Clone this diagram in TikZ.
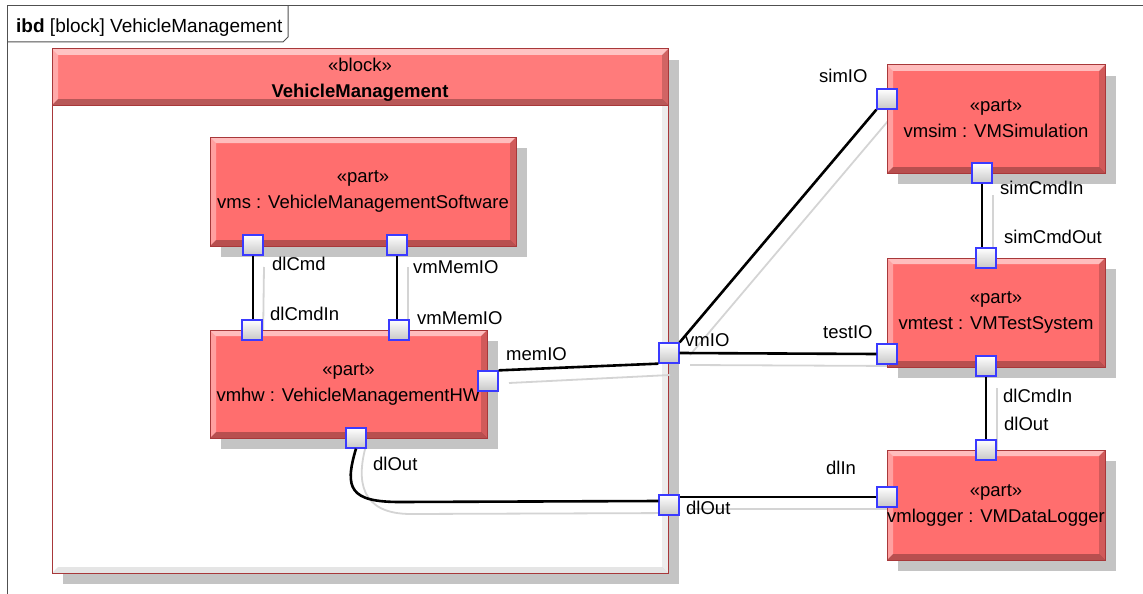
\documentclass[tikz,border=0pt]{standalone}
\usepackage{fontspec}
\setmainfont{Liberation Sans}
\usetikzlibrary{shadows}
\definecolor{partred}{HTML}{FF6E6E}
\definecolor{headred}{HTML}{FF7B7B}
\definecolor{borderred}{HTML}{A8383A}
\definecolor{shadowgray}{HTML}{C4C4C4}
\definecolor{portblue}{HTML}{3A3AFF}
\definecolor{framegray}{HTML}{505050}
\definecolor{lineshadow}{HTML}{D4D4D4}
\tikzset{
  txt/.style={font=\fontsize{18.5}{26}\selectfont},
  bevel/.style={path picture={
    \path (path picture bounding box.north west) coordinate (bvnw)
          (path picture bounding box.south east) coordinate (bvse);
    \fill[white,opacity=.55] (bvnw) -- (bvnw -| bvse) -- ([shift={(-6pt,-6pt)}]bvnw -| bvse) -- ([shift={(6pt,-6pt)}]bvnw) -- cycle;
    \fill[white,opacity=.35] (bvnw) -- ([shift={(6pt,-6pt)}]bvnw) -- ([shift={(6pt,6pt)}]bvnw |- bvse) -- (bvnw |- bvse) -- cycle;
    \fill[black,opacity=.28] (bvnw |- bvse) -- (bvse) -- ([shift={(-6pt,6pt)}]bvse) -- ([shift={(6pt,6pt)}]bvnw |- bvse) -- cycle;
    \fill[black,opacity=.18] (bvse) -- (bvnw -| bvse) -- ([shift={(-6pt,-6pt)}]bvnw -| bvse) -- ([shift={(-6pt,6pt)}]bvse) -- cycle;
  }},
  lightbevel/.style={path picture={
    \path (path picture bounding box.north west) coordinate (bvnw)
          (path picture bounding box.south east) coordinate (bvse);
    \fill[black,opacity=.10] (bvnw |- bvse) -- (bvse) -- ([shift={(-6pt,6pt)}]bvse) -- ([shift={(6pt,6pt)}]bvnw |- bvse) -- cycle;
    \fill[black,opacity=.07] (bvse) -- (bvnw -| bvse) -- ([shift={(-6pt,-6pt)}]bvnw -| bvse) -- ([shift={(-6pt,6pt)}]bvse) -- cycle;
  }},
  boxshadow/.style={drop shadow={shadow xshift=11pt, shadow yshift=-11pt, fill=shadowgray, opacity=1, draw=none}},
  partbox/.style={rectangle, draw=borderred, line width=1pt, fill=partred, bevel, boxshadow,
                  txt, align=center, inner sep=0pt},
  blockbox/.style={rectangle, draw=borderred, line width=1pt, fill=white, lightbevel, boxshadow, inner sep=0pt},
  headbox/.style={rectangle, draw=borderred, line width=1pt, fill=headred, bevel, txt, align=center, inner sep=0pt},
  port/.style={rectangle, draw=portblue, line width=1.3pt, minimum size=20pt, inner sep=0pt,
               top color=white, bottom color=black!22},
  conn/.style={draw=black, line width=2.6pt},
  connshadow/.style={draw=lineshadow, line width=1.8pt, transform canvas={shift={(11pt,-12pt)}}},
  lbl/.style={txt, anchor=west, inner sep=0pt},
}
\begin{document}
\begin{tikzpicture}[x=1pt,y=-1pt]
\useasboundingbox (0,0) rectangle (1143,594);
% frame
\draw[framegray, line width=1pt] (7,600) -- (7,6) -- (1150,6);
\draw[framegray, line width=1pt] (7,42) -- (283,42) -- (288,37) -- (288,6);
\node[font=\fontsize{19}{24}\selectfont, anchor=base west, inner sep=0pt] (title) at (16,33) {\textbf{ibd} [block] VehicleManagement};
% block
\node[blockbox, minimum width=616pt, minimum height=524pt] (vm) at (360,311) {};
\node[headbox, minimum width=616pt, minimum height=56pt] (vmhead) at (360,77) {};
\node[txt, align=center, inner sep=0pt] (vmheadtext) at (360,80) {«block»\\\textbf{VehicleManagement}};
% port positions
\coordinate (c_dlCmd) at (253,245);
\coordinate (c_vmMemIOa) at (397,245);
\coordinate (c_dlCmdIn) at (252,330);
\coordinate (c_vmMemIOb) at (399,330);
\coordinate (c_memIO) at (488,381);
\coordinate (c_dlOutHW) at (356,438);
\coordinate (c_vmIO) at (669,353);
\coordinate (c_dlOutB) at (669,505);
\coordinate (c_simIO) at (887,99);
\coordinate (c_simCmdIn) at (982,173);
\coordinate (c_simCmdOut) at (986,258);
\coordinate (c_testIO) at (887,354);
\coordinate (c_dlCmdInT) at (986,366);
\coordinate (c_dlOutL) at (986,450);
\coordinate (c_dlIn) at (887,497);
\coordinate (bend) at (400,502);
% shadow lines
\path[connshadow] ([yshift=-10pt]c_dlCmd) -- (c_dlCmdIn);
\path[connshadow] ([yshift=-10pt]c_vmMemIOa) -- (c_vmMemIOa |- c_vmMemIOb);
\path[connshadow] ([shift={(10pt,10pt)}]c_memIO) -- ([shift={(-10pt,-10pt)}]c_vmIO);
\path[connshadow] ([shift={(10pt,10pt)}]c_vmIO) -- ([shift={(-10pt,-10pt)}]c_simIO);
\path[connshadow] ([xshift=10pt]c_vmIO) -- (c_testIO);
\path[connshadow] ([yshift=-10pt]c_simCmdIn) -- (c_simCmdIn |- c_simCmdOut);
\path[connshadow] ([yshift=-10pt]c_dlCmdInT) -- (c_dlOutL);
\path[connshadow] ([yshift=8pt]c_dlOutHW) .. controls +(-12pt,-40pt) and +(-50pt,0pt) .. (bend) -- ([yshift=4pt]c_dlOutB);
\path[connshadow] ([xshift=10pt]c_dlIn -| c_dlOutB) -- (c_dlIn);
% parts
\node[partbox, minimum width=306pt, minimum height=109pt] (vms) at (363,191.5) {«part»\\vms : VehicleManagementSoftware};
\node[partbox, minimum width=277pt, minimum height=108pt] (vmhw) at (348.5,384) {«part»\\vmhw : VehicleManagementHW};
\node[partbox, minimum width=218pt, minimum height=108pt] (vmsim) at (996,119) {«part»\\vmsim : VMSimulation};
\node[partbox, minimum width=218pt, minimum height=109pt] (vmtest) at (996,312.5) {«part»\\vmtest : VMTestSystem};
\node[partbox, minimum width=218pt, minimum height=110pt] (vmlogger) at (996,505) {«part»\\vmlogger : VMDataLogger};
% ports
\node[port] (p_dlCmd) at (c_dlCmd) {};
\node[port] (p_vmMemIOa) at (c_vmMemIOa) {};
\node[port] (p_dlCmdIn) at (c_dlCmdIn) {};
\node[port] (p_vmMemIOb) at (c_vmMemIOb) {};
\node[port] (p_memIO) at (c_memIO) {};
\node[port] (p_dlOutHW) at (c_dlOutHW) {};
\node[port] (p_vmIO) at (c_vmIO) {};
\node[port] (p_dlOutB) at (c_dlOutB) {};
\node[port] (p_simIO) at (c_simIO) {};
\node[port] (p_simCmdIn) at (c_simCmdIn) {};
\node[port] (p_simCmdOut) at (c_simCmdOut) {};
\node[port] (p_testIO) at (c_testIO) {};
\node[port] (p_dlCmdInT) at (c_dlCmdInT) {};
\node[port] (p_dlOutL) at (c_dlOutL) {};
\node[port] (p_dlIn) at (c_dlIn) {};
% connectors
\draw[conn] (p_dlCmd.south) -- (p_dlCmd.south |- p_dlCmdIn.north);
\draw[conn] (p_vmMemIOa.south) -- (p_vmMemIOa.south |- p_vmMemIOb.north);
\draw[conn] (p_memIO.north east) -- (p_vmIO.south west);
\draw[conn] (p_vmIO.north east) -- (p_simIO.south west);
\draw[conn] (p_vmIO.east) -- (p_testIO.west);
\draw[conn] (p_simCmdIn.south) -- (p_simCmdIn.south |- p_simCmdOut.north);
\draw[conn] (p_dlCmdInT.south) -- (p_dlOutL.north);
\draw[conn] (p_dlOutHW.south) .. controls +(-12pt,-40pt) and +(-50pt,0pt) .. (bend) -- ([yshift=4pt]p_dlOutB.west);
\draw[conn] (p_dlIn.west -| p_dlOutB.east) -- (p_dlIn.west);
% labels
\node[lbl] (l1) at (272,264) {dlCmd};
\node[lbl] (l2) at (270,314) {dlCmdIn};
\node[lbl] (l3) at (413,267) {vmMemIO};
\node[lbl] (l4) at (417,318) {vmMemIO};
\node[lbl] (l5) at (506,354) {memIO};
\node[lbl] (l6) at (685,340) {vmIO};
\node[lbl] (l7) at (819,76) {simIO};
\node[lbl] (l8) at (1000,188) {simCmdIn};
\node[lbl] (l9) at (1004,237) {simCmdOut};
\node[lbl] (l10) at (823,332) {testIO};
\node[lbl] (l11) at (1003,396) {dlCmdIn};
\node[lbl] (l12) at (1004,424) {dlOut};
\node[lbl] (l13) at (826,468) {dlIn};
\node[lbl] (l14) at (686,508) {dlOut};
\node[lbl] (l15) at (373,464) {dlOut};
\end{tikzpicture}
\end{document}
